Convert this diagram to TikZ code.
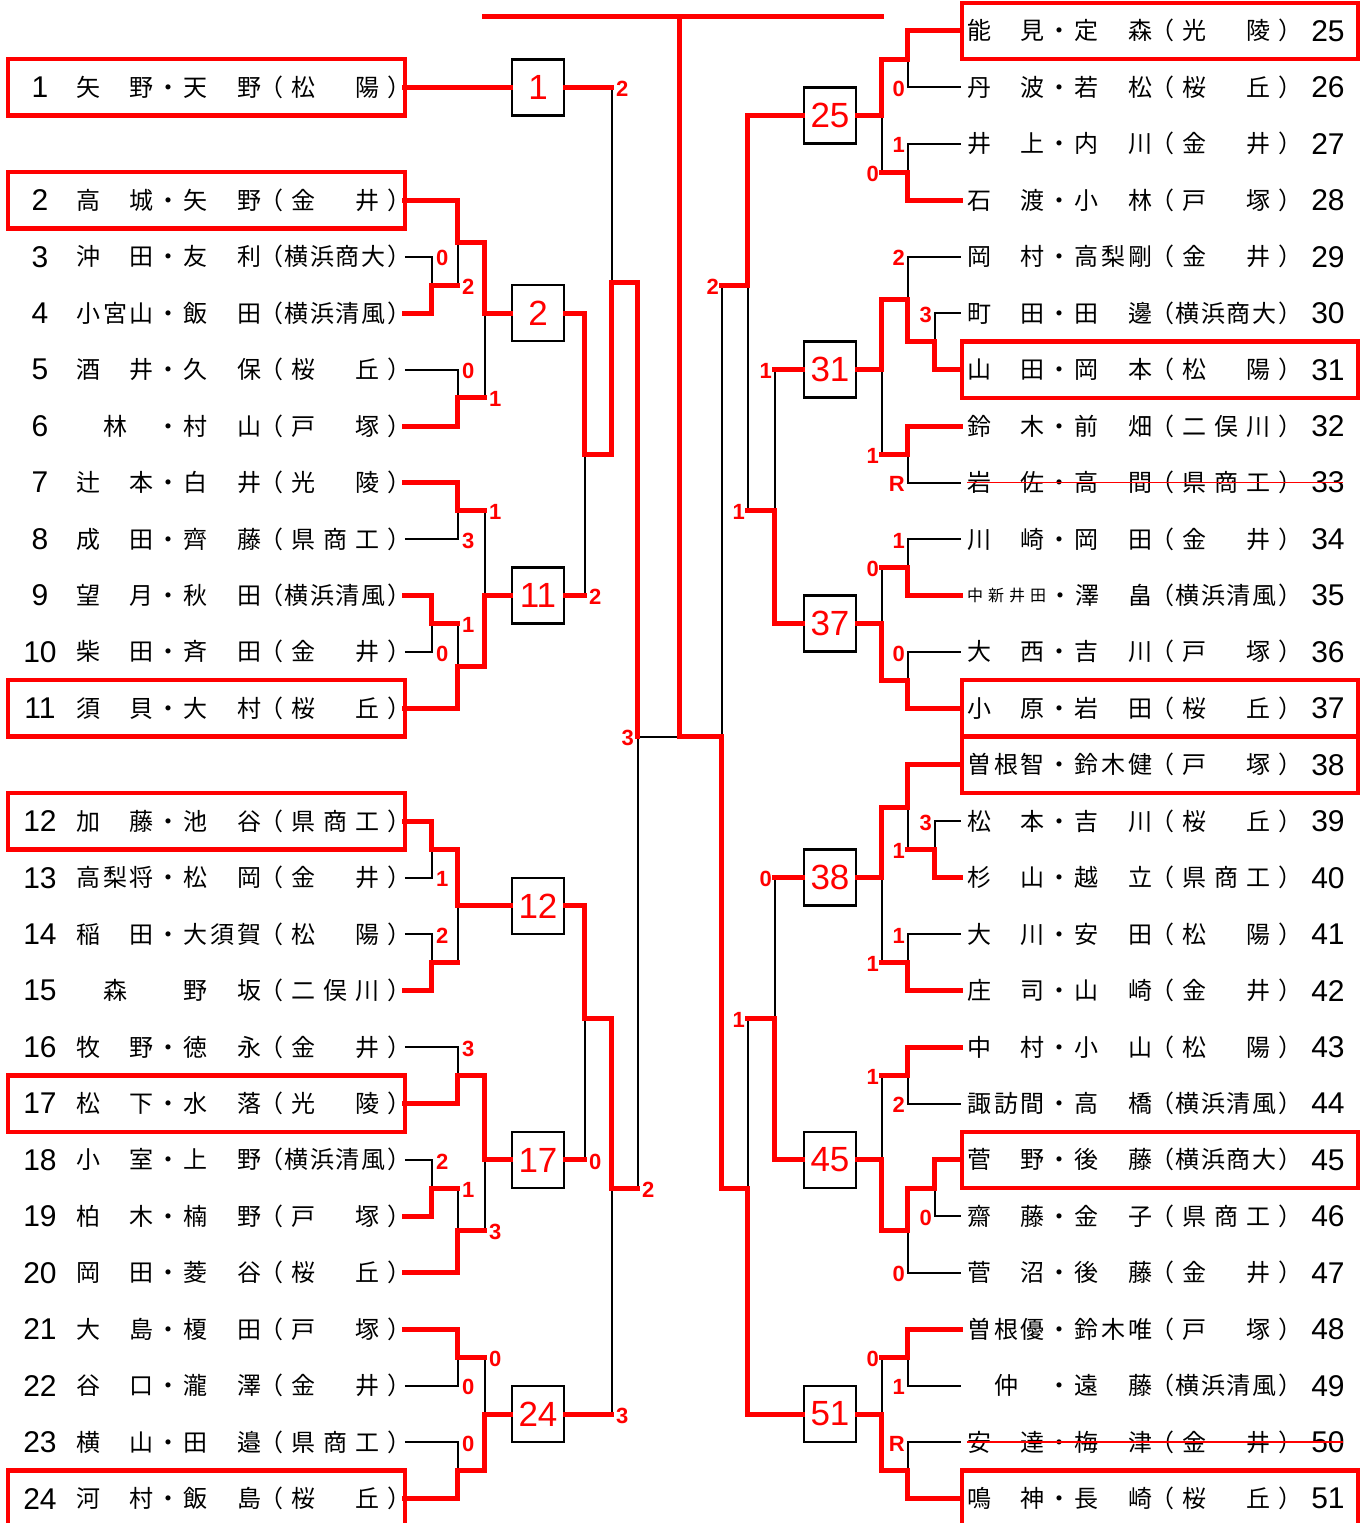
\documentclass[tikz,border=0pt]{standalone}
\usepackage{fontspec}
\setmainfont{Noto Sans CJK JP}
\newfontfamily\numfont{Liberation Sans}
\usetikzlibrary{calc}

\makeatletter
\newcommand\fitbox[2]{\hbox to #1{\expandafter\fit@loop#2\@nil}}
\def\fit@loop#1#2\@nil{#1\if\relax\detokenize{#2}\relax\else\hfil\fit@loop#2\@nil\fi}
\makeatother
\newcommand\nakashin{\raisebox{3pt}{\fontsize{16}{16}\selectfont\fitbox{79pt}{中新井田}}}

\begin{document}
\begin{tikzpicture}[x=1pt,y=-56.45pt,
  win/.style={red,line width=5pt,line cap=rect},
  lose/.style={black,line width=2pt},
  rnd/.style={draw=black,line width=2.5pt,fill=white,minimum width=52pt,minimum height=56pt,inner sep=0pt,text=red,font=\numfont\fontsize{35}{35}\selectfont},
  seedbox/.style={draw=red,line width=4.5pt},
  score/.style={text=red,inner sep=0pt,yshift=-1.5pt,font=\numfont\bfseries\fontsize{22}{22}\selectfont},
  seedno/.style={inner sep=0pt,font=\numfont\fontsize{30}{30}\selectfont},
  namerow/.style={anchor=base west,inner sep=0pt,yshift=-9pt,font=\fontsize{24}{24}\selectfont}]
\useasboundingbox (0,-0.5492) rectangle (1367,26.431);

\foreach \k in {1,3,12,14,19,26}
  \draw[seedbox] (8,\k-0.5) rectangle (405,\k+0.5);
\foreach \k in {0,6,12,13,20,26}
  \draw[seedbox] (962,\k-0.5) rectangle (1358,\k+0.5);

\foreach \k/\n/\nm/\sch in {1/1/矢　野・天　野/（松　陽）,3/2/高　城・矢　野/（金　井）,
  4/3/沖　田・友　利/（横浜商大）,5/4/小宮山・飯　田/（横浜清風）,6/5/酒　井・久　保/（桜　丘）,
  7/6/　林　・村　山/（戸　塚）,8/7/辻　本・白　井/（光　陵）,9/8/成　田・齊　藤/（県商工）,
  10/9/望　月・秋　田/（横浜清風）,11/10/柴　田・斉　田/（金　井）,12/11/須　貝・大　村/（桜　丘）,
  14/12/加　藤・池　谷/（県商工）,15/13/高梨将・松　岡/（金　井）,16/14/稲　田・大須賀/（松　陽）,
  17/15/　森　　野　坂/（二俣川）,18/16/牧　野・徳　永/（金　井）,19/17/松　下・水　落/（光　陵）,
  20/18/小　室・上　野/（横浜清風）,21/19/柏　木・楠　野/（戸　塚）,22/20/岡　田・菱　谷/（桜　丘）,
  23/21/大　島・榎　田/（戸　塚）,24/22/谷　口・瀧　澤/（金　井）,25/23/横　山・田　邉/（県商工）,
  26/24/河　村・飯　島/（桜　丘）}{
  \coordinate (e\n) at (405,\k);
  \node[seedno] (m\n) at (40,\k) {\n};
  \node[namerow] (n\n) at (76,\k) {\fitbox{185pt}{\nm}\kern-2pt\fitbox{152pt}{\sch}};
}

\foreach \k/\n/\nm/\sch in {0/25/能　見・定　森/（光　陵）,1/26/丹　波・若　松/（桜　丘）,
  2/27/井　上・内　川/（金　井）,3/28/石　渡・小　林/（戸　塚）,4/29/岡　村・高梨剛/（金　井）,
  5/30/町　田・田　邊/（横浜商大）,6/31/山　田・岡　本/（松　陽）,7/32/鈴　木・前　畑/（二俣川）,
  8/33/岩　佐・高　間/（県商工）,9/34/川　崎・岡　田/（金　井）,10/35/\nakashin・澤　畠/（横浜清風）,
  11/36/大　西・吉　川/（戸　塚）,12/37/小　原・岩　田/（桜　丘）,13/38/曽根智・鈴木健/（戸　塚）,
  14/39/松　本・吉　川/（桜　丘）,15/40/杉　山・越　立/（県商工）,16/41/大　川・安　田/（松　陽）,
  17/42/庄　司・山　崎/（金　井）,18/43/中　村・小　山/（松　陽）,19/44/諏訪間・高　橋/（横浜清風）,
  20/45/菅　野・後　藤/（横浜商大）,21/46/齋　藤・金　子/（県商工）,22/47/菅　沼・後　藤/（金　井）,
  23/48/曽根優・鈴木唯/（戸　塚）,24/49/　仲　・遠　藤/（横浜清風）,25/50/安　達・梅　津/（金　井）,
  26/51/鳴　神・長　崎/（桜　丘）}{
  \coordinate (e\n) at (961,\k);
  \node[seedno] (m\n) at (1328,\k) {\n};
  \node[namerow] (n\n) at (967,\k) {\fitbox{185pt}{\nm}\kern-2pt\fitbox{152pt}{\sch}};
}
\draw[red,line width=1.5pt] (967,8) -- (1343,8);
\draw[red,line width=1.5pt] (967,25) -- (1343,25);

\node[rnd] (b1) at (538,1) {1};
\node[rnd] (b2) at (538,5) {2};
\node[rnd] (b11) at (538,10) {11};
\node[rnd] (b12) at (538,15.5) {12};
\node[rnd] (b17) at (538,20) {17};
\node[rnd] (b24) at (538,24.5) {24};
\node[rnd] (b25) at (830,1.5) {25};
\node[rnd] (b31) at (830,6) {31};
\node[rnd] (b37) at (830,10.5) {37};
\node[rnd] (b38) at (830,15) {38};
\node[rnd] (b45) at (830,20) {45};
\node[rnd] (b51) at (830,24.5) {51};

\draw[lose] (e3) -| (432,4.5);
\draw[lose] (458,3.75) -- (458,4.5);
\draw[lose] (e5) -| (458,6.5);
\draw[lose] (485,5) -- (485,6.5);
\draw[lose] (e8) -| (458,8.5);
\draw[lose] (485,8.5) -- (485,10);
\draw[lose] (e10) -| (432,10.5);
\draw[lose] (458,10.5) -- (458,11.25);
\draw[lose] (585,7.5) -- (585,10);
\draw[lose] (612,1) -- (612,4.45);
\draw[lose] (e13) -| (432,14.5);
\draw[lose] (e14) -| (432,16.5);
\draw[lose] (458,15.5) -- (458,16.5);
\draw[lose] (e16) -| (458,18.5);
\draw[lose] (e18) -| (432,20.5);
\draw[lose] (458,20.5) -- (458,21.25);
\draw[lose] (485,20) -- (485,21.25);
\draw[lose] (585,17.5) -- (585,20);
\draw[lose] (e22) -| (458,23.5);
\draw[lose] (485,23.5) -- (485,24.5);
\draw[lose] (e23) -| (458,25.5);
\draw[lose] (612,20.5) -- (612,24.5);
\draw[lose] (638,12.5) -- (680,12.5);
\draw[lose] (638,12.5) -- (638,20.5);
\draw[lose] (722,4.5) -- (722,12.5);
\draw[lose] (e26) -| (908,0.5);
\draw[lose] (e27) -| (908,2.5);
\draw[lose] (882,1.5) -- (882,2.5);
\draw[lose] (e29) -| (908,4.75);
\draw[lose] (e30) -| (935,5.5);
\draw[lose] (e33) -| (908,7.5);
\draw[lose] (882,6) -- (882,7.5);
\draw[lose] (775,6) -- (775,8.5);
\draw[lose] (748,4.5) -- (748,8.5);
\draw[lose] (e34) -| (908,9.5);
\draw[lose] (882,9.5) -- (882,10.5);
\draw[lose] (e36) -| (908,11.5);
\draw[lose] (e39) -| (935,14.5);
\draw[lose] (908,13.75) -- (908,14.5);
\draw[lose] (e41) -| (908,16.5);
\draw[lose] (882,15) -- (882,16.5);
\draw[lose] (775,15) -- (775,17.5);
\draw[lose] (748,17.5) -- (748,20.5);
\draw[lose] (e44) -| (908,18.5);
\draw[lose] (882,18.5) -- (882,20);
\draw[lose] (e46) -| (935,20.5);
\draw[lose] (e47) -| (908,21.25);
\draw[lose] (e49) -| (908,23.5);
\draw[lose] (882,23.5) -- (882,24.5);
\draw[lose] (e50) -| (908,25.5);

\draw[win] (e1) -- (b1.west);
\draw[win] (b1.east) -- (612,1);
\draw[win] (e2) -| (458,3.75) -| (485,5) -- (b2.west);
\draw[win] (e4) -| (432,4.5) -- (458,4.5);
\draw[win] (e6) -| (458,6.5) -- (485,6.5);
\draw[win] (e7) -| (458,8.5) -- (485,8.5);
\draw[win] (e9) -| (432,10.5) -- (458,10.5);
\draw[win] (e11) -| (458,11.25) -| (485,10) -- (b11.west);
\draw[win] (b2.east) -| (585,7.5) -| (612,4.45) -| (638,12.5);
\draw[win] (b11.east) -- (585,10);
\draw[win] (e12) -| (432,14.5) -| (458,15.5) -- (b12.west);
\draw[win] (e15) -| (432,16.5) -- (458,16.5);
\draw[win] (e17) -| (458,18.5) -| (485,20) -- (b17.west);
\draw[win] (e19) -| (432,20.5) -- (458,20.5);
\draw[win] (e20) -| (458,21.25) -- (485,21.25);
\draw[win] (e21) -| (458,23.5) -- (485,23.5);
\draw[win] (e24) -| (458,25.5) -| (485,24.5) -- (b24.west);
\draw[win] (b12.east) -| (585,17.5) -| (612,20.5) -- (638,20.5);
\draw[win] (b17.east) -- (585,20);
\draw[win] (b24.east) -- (612,24.5);
\draw[win] (485,-0.25) -- (882,-0.25);
\draw[win] (b51.west) -| (748,20.5) -| (722,12.5) -| (680,-0.25);
\draw[win] (e25) -| (908,0.5) -| (882,1.5) -- (b25.east);
\draw[win] (e28) -| (908,2.5) -- (882,2.5);
\draw[win] (b25.west) -| (748,4.5) -- (722,4.5);
\draw[win] (e31) -| (935,5.5) -| (908,4.75) -| (882,6) -- (b31.east);
\draw[win] (e32) -| (908,7.5) -- (882,7.5);
\draw[win] (b31.west) -- (775,6);
\draw[win] (e35) -| (908,9.5) -- (882,9.5);
\draw[win] (e37) -| (908,11.5) -| (882,10.5) -- (b37.east);
\draw[win] (b37.west) -| (775,8.5) -- (748,8.5);
\draw[win] (e38) -| (908,13.75) -| (882,15) -- (b38.east);
\draw[win] (e40) -| (935,14.5) -- (908,14.5);
\draw[win] (e42) -| (908,16.5) -- (882,16.5);
\draw[win] (b38.west) -- (775,15);
\draw[win] (e43) -| (908,18.5) -- (882,18.5);
\draw[win] (e45) -| (935,20.5) -| (908,21.25) -| (882,20) -- (b45.east);
\draw[win] (b45.west) -| (775,17.5) -- (748,17.5);
\draw[win] (e48) -| (908,23.5) -- (882,23.5);
\draw[win] (e51) -| (908,25.5) -| (882,24.5) -- (b51.east);

\foreach \x/\k/\g in {432/4/0,458/4.5/2,458/6/0,485/6.5/1,485/8.5/1,458/9/3,458/10.5/1,
  432/11/0,585/10/2,612/1/2,432/15/1,432/16/2,458/18/3,432/20/2,458/20.5/1,485/21.25/3,
  585/20/0,638/20.5/2,485/23.5/0,458/24/0,458/25/0,612/24.5/3}
  \node[score,anchor=west,xshift=4pt] at (\x,\k) {\g};
\node[score,anchor=east,xshift=-4pt] at (638,12.5) {3};
\foreach \x/\k/\g in {908/1/0,908/2/1,882/2.5/0,908/4/2,935/5/3,882/7.5/1,908/8/R,775/6/1,
  748/8.5/1,722/4.5/2,908/9/1,882/9.5/0,908/11/0,775/15/0,935/14/3,908/14.5/1,908/16/1,
  882/16.5/1,748/17.5/1,882/18.5/1,908/19/2,935/21/0,908/22/0,882/23.5/0,908/24/1,908/25/R}
  \node[score,anchor=east,xshift=-3pt] at (\x,\k) {\g};
\end{tikzpicture}
\end{document}
